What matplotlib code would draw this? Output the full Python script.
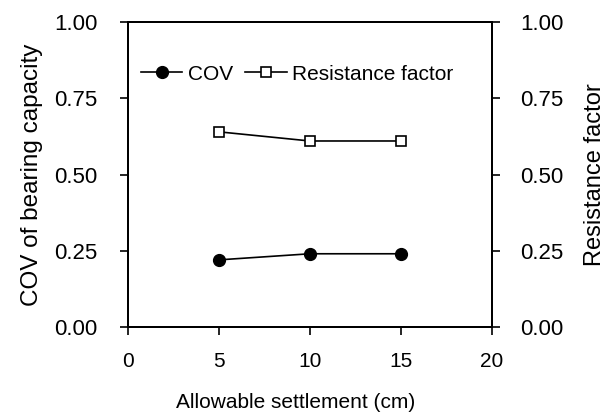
import matplotlib
matplotlib.use('Agg')
import matplotlib.pyplot as plt

plt.rcParams['font.family'] = ['Liberation Sans', 'DejaVu Sans']

# data
settlement = [5, 10, 15]
cov = [0.22, 0.24, 0.24]
resistance = [0.64, 0.61, 0.61]

xticks = [0, 5, 10, 15, 20]
yticks = [0, 0.25, 0.5, 0.75, 1.0]
ytick_labels = ['0.00', '0.25', '0.50', '0.75', '1.00']

fig, ax = plt.subplots(figsize=(6.07, 4.17), dpi=100)
fig.subplots_adjust(left=0.211, right=0.81, top=0.947, bottom=0.216)

l1, = ax.plot(settlement, cov, color='black', lw=1.2, marker='o', markersize=8.5,
              label='COV')
ax2 = ax.twinx()
l2, = ax2.plot(settlement, resistance, color='black', lw=1.2, marker='s',
               markersize=7.5, markerfacecolor='white', markeredgewidth=1.2,
               label='Resistance factor')

ax.set_xlim(0, 20)
ax.set_ylim(0, 1)
ax2.set_ylim(0, 1)
ax.set_xticks(xticks)
ax.set_yticks(yticks)
ax2.set_yticks(yticks)
ax.set_yticklabels(ytick_labels)
ax2.set_yticklabels(ytick_labels)

for a in (ax, ax2):
    a.tick_params(direction='out', length=6, width=1.2, labelsize=16, colors='black')
    for s in a.spines.values():
        s.set_linewidth(1.4)
ax.tick_params(axis='x', pad=12, labelsize=15)
ax.tick_params(axis='y', pad=16)
ax2.tick_params(axis='y', pad=14.5)

ax.set_xlabel('Allowable settlement (cm)', fontsize=15)
ax.xaxis.set_label_coords(0.462, -0.218)
ax.set_ylabel('COV of bearing capacity', fontsize=17.5, labelpad=8)
ax2.set_ylabel('Resistance factor', fontsize=17, labelpad=15)

ax.legend([l1, l2], ['COV', 'Resistance factor'], loc='upper left', ncol=2,
          frameon=False, fontsize=15, handlelength=2.0, handletextpad=0.25,
          columnspacing=0.6, borderaxespad=0, borderpad=0,
          bbox_to_anchor=(0.035, 0.86))

fig.savefig('out.png', dpi=100)
